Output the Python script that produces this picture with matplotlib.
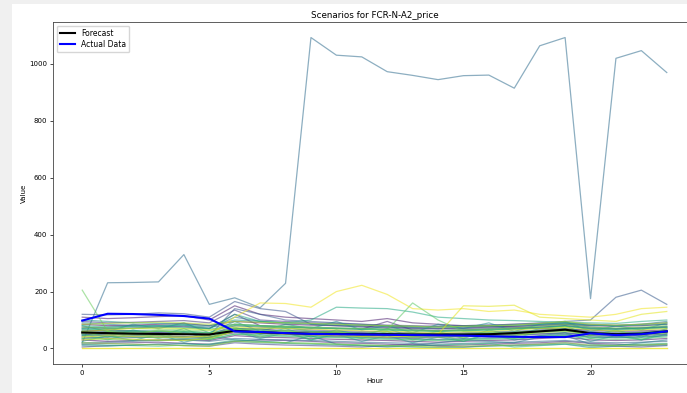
import numpy as np
import matplotlib
matplotlib.use("Agg")
import matplotlib.pyplot as plt
from matplotlib.patches import Rectangle

hours = list(range(24))

forecast = [56, 54, 52, 51, 50, 49, 62, 57, 54, 52, 51, 50, 50, 49, 49, 49, 50, 54, 60, 66, 54, 50, 52, 60]
actual = [98, 122, 121, 118, 114, 105, 60, 58, 54, 51, 50, 49, 48, 47, 46, 45, 43, 41, 40, 40, 53, 47, 50, 60]

# one row per scenario
scenarios = [
    [60, 65, 62, 58, 55, 50, 70, 68, 62, 60, 58, 55, 52, 50, 48, 50, 52, 55, 60, 65, 55, 50, 52, 58],
    [85, 80, 82, 85, 88, 80, 95, 90, 85, 82, 80, 78, 75, 72, 70, 72, 75, 78, 82, 85, 80, 78, 80, 85],
    [30, 25, 28, 30, 32, 28, 45, 40, 38, 35, 32, 30, 28, 25, 22, 25, 28, 30, 35, 40, 30, 28, 30, 35],
    [110, 105, 108, 112, 115, 100, 150, 120, 110, 105, 100, 95, 105, 90, 85, 80, 78, 75, 70, 68, 65, 60, 62, 65],
    [15, 18, 20, 22, 18, 15, 25, 30, 28, 25, 20, 18, 15, 12, 10, 12, 15, 18, 20, 25, 18, 15, 12, 15],
    [75, 70, 72, 75, 78, 70, 120, 80, 75, 72, 70, 68, 95, 65, 62, 65, 68, 70, 75, 80, 70, 68, 72, 75],
    [45, 50, 48, 45, 42, 40, 55, 52, 50, 48, 45, 42, 40, 38, 40, 42, 45, 48, 50, 55, 45, 42, 45, 50],
    [95, 90, 92, 95, 98, 90, 135, 100, 95, 90, 88, 85, 82, 80, 78, 80, 82, 85, 88, 90, 85, 82, 85, 90],
    [5, 10, 12, 15, 10, 8, 20, 15, 12, 10, 8, 5, 10, 15, 8, 5, 10, 12, 15, 20, 10, 8, 5, 10],
    [65, 60, 58, 55, 52, 48, 80, 75, 70, 65, 62, 60, 58, 55, 52, 55, 58, 60, 65, 70, 60, 55, 58, 62],
    [40, 35, 38, 40, 42, 38, 60, 55, 50, 45, 42, 40, 38, 35, 32, 35, 38, 40, 45, 50, 40, 38, 40, 45],
    [120, 118, 120, 125, 122, 110, 165, 140, 130, 85, 80, 75, 72, 70, 68, 70, 72, 75, 80, 85, 75, 70, 72, 75],
    [50, 48, 52, 55, 50, 45, 140, 120, 100, 95, 90, 85, 80, 75, 78, 80, 82, 85, 90, 95, 100, 180, 205, 155],
    [50, 45, 42, 40, 38, 35, 65, 60, 55, 52, 50, 48, 45, 42, 40, 42, 45, 48, 52, 55, 48, 45, 48, 52],
    [20, 22, 25, 28, 30, 25, 35, 32, 30, 28, 25, 22, 20, 18, 15, 18, 20, 22, 25, 28, 22, 20, 22, 25],
    [20, 231, 232, 234, 330, 155, 178, 143, 229, 1093, 1031, 1025, 973, 960, 945, 959, 961, 915, 1064, 1093, 175, 1020, 1047, 970],
    [70, 75, 78, 80, 82, 75, 85, 80, 78, 75, 72, 70, 68, 65, 62, 65, 68, 70, 75, 80, 72, 70, 72, 78],
    [35, 40, 45, 50, 55, 45, 30, 25, 20, 45, 15, 10, 5, 10, 20, 30, 25, 20, 40, 45, 15, 10, 20, 30],
    [90, 85, 80, 78, 75, 70, 110, 95, 90, 85, 82, 80, 78, 75, 72, 75, 78, 80, 85, 90, 82, 80, 85, 95],
    [55, 58, 60, 62, 60, 55, 70, 65, 62, 60, 58, 55, 52, 50, 48, 50, 52, 55, 58, 62, 55, 52, 55, 58],
    [10, 8, 12, 15, 18, 12, 25, 20, 18, 15, 12, 10, 8, 5, 3, 5, 8, 10, 12, 15, 3, 8, 10, 12],
    [80, 60, 85, 70, 90, 55, 95, 60, 85, 70, 95, 65, 80, 55, 85, 70, 90, 60, 85, 95, 60, 80, 65, 90],
    [25, 45, 28, 50, 22, 40, 60, 35, 55, 30, 50, 25, 45, 20, 40, 25, 50, 30, 45, 55, 25, 45, 30, 50],
    [100, 95, 90, 88, 85, 80, 100, 95, 90, 88, 85, 82, 80, 78, 75, 78, 80, 82, 85, 88, 82, 80, 82, 85],
    [60, 40, 65, 45, 70, 35, 75, 50, 70, 40, 65, 45, 70, 40, 60, 35, 65, 45, 70, 80, 45, 65, 40, 70],
    [45, 42, 40, 38, 35, 32, 50, 48, 45, 42, 40, 38, 35, 32, 30, 32, 35, 38, 42, 48, 40, 38, 40, 45],
    [80, 75, 78, 80, 82, 70, 120, 95, 90, 100, 145, 142, 140, 128, 110, 105, 100, 98, 95, 92, 90, 88, 95, 100],
    [70, 65, 62, 60, 58, 55, 85, 80, 75, 72, 70, 68, 65, 62, 60, 62, 65, 68, 72, 78, 68, 65, 68, 72],
    [15, 12, 10, 8, 12, 15, 30, 25, 20, 18, 15, 12, 10, 8, 12, 15, 18, 5, 10, 15, 8, 12, 15, 18],
    [65, 70, 72, 75, 72, 68, 80, 78, 75, 72, 70, 68, 65, 62, 60, 62, 65, 68, 72, 78, 70, 68, 70, 75],
    [50, 30, 55, 35, 60, 30, 65, 40, 60, 30, 55, 35, 60, 30, 50, 25, 55, 35, 60, 70, 35, 55, 30, 60],
    [35, 32, 30, 28, 30, 32, 50, 45, 42, 40, 38, 35, 32, 30, 28, 30, 32, 35, 40, 45, 35, 32, 35, 40],
    [60, 55, 58, 60, 62, 55, 65, 70, 75, 60, 55, 50, 65, 160, 100, 60, 55, 58, 62, 65, 50, 52, 55, 60],
    [205, 60, 55, 50, 52, 48, 70, 65, 60, 55, 58, 52, 50, 55, 48, 52, 50, 55, 60, 62, 50, 48, 52, 55],
    [75, 72, 70, 68, 65, 62, 85, 80, 78, 75, 72, 70, 68, 65, 62, 65, 68, 72, 78, 85, 75, 72, 75, 80],
    [40, 60, 48, 65, 52, 45, 70, 52, 65, 48, 60, 42, 58, 38, 55, 38, 60, 42, 62, 75, 45, 62, 45, 65],
    [20, 18, 15, 12, 10, 8, 25, 22, 20, 18, 15, 12, 10, 8, 5, 8, 10, 12, 15, 20, 12, 10, 12, 15],
    [55, 50, 48, 45, 42, 40, 60, 58, 55, 52, 50, 48, 45, 42, 40, 42, 45, 48, 55, 60, 50, 48, 50, 55],
    [85, 88, 90, 92, 90, 85, 95, 92, 90, 88, 85, 82, 80, 78, 75, 78, 80, 82, 88, 95, 85, 82, 85, 90],
    [0, 0, 0, 0, 0, 0, 0, 0, 0, 0, 0, 0, 0, 0, 0, 0, 0, 0, 0, 0, 0, 0, 0, 0],
    [60, 65, 70, 72, 70, 65, 75, 72, 70, 68, 65, 62, 60, 58, 55, 58, 60, 65, 70, 75, 65, 62, 65, 70],
    [30, 35, 32, 30, 28, 35, 60, 55, 50, 48, 45, 42, 40, 45, 50, 150, 148, 152, 110, 105, 100, 95, 120, 130],
    [40, 45, 42, 40, 38, 45, 110, 160, 158, 145, 200, 222, 190, 140, 135, 140, 130, 135, 120, 115, 110, 120, 140, 145],
    [3, 3, 3, 3, 3, 3, 3, 3, 3, 3, 3, 3, 3, 3, 3, 3, 3, 3, 3, 3, 3, 3, 3, 3],
]

W, H = 687, 393
fig = plt.figure(figsize=(W / 100, H / 100), dpi=100)
fig.patch.set_facecolor("#f0f0f0")
fig.add_artist(Rectangle((12 / W, 0), 1, (H - 4) / H, transform=fig.transFigure,
                         facecolor="white", edgecolor="none", zorder=-10))

ax = fig.add_axes([53 / W, 29 / H, (696 - 53) / W, (364 - 22) / H])

colors = plt.cm.viridis(np.linspace(0, 1, len(scenarios)))
for row, c in zip(scenarios, colors):
    ax.plot(hours, row, color=c, alpha=0.55, linewidth=0.9)

ax.plot(hours, forecast, color="black", linewidth=1.5, label="Forecast")
ax.plot(hours, actual, color="blue", linewidth=1.5, label="Actual Data")

ax.set_title("Scenarios for FCR-N-A2_price", fontsize=6.3, pad=3)
ax.set_xlabel("Hour", fontsize=5, labelpad=2)
ax.set_ylabel("Value", fontsize=5, labelpad=2)
ax.tick_params(labelsize=5, length=2, width=0.5, pad=2)
for s in ax.spines.values():
    s.set_linewidth(0.6)
    s.set_color("#444444")
ax.legend(loc="upper left", fontsize=5.5, handlelength=2, borderpad=0.4, labelspacing=0.3)

fig.savefig("out.png", dpi=100, facecolor=fig.get_facecolor())
